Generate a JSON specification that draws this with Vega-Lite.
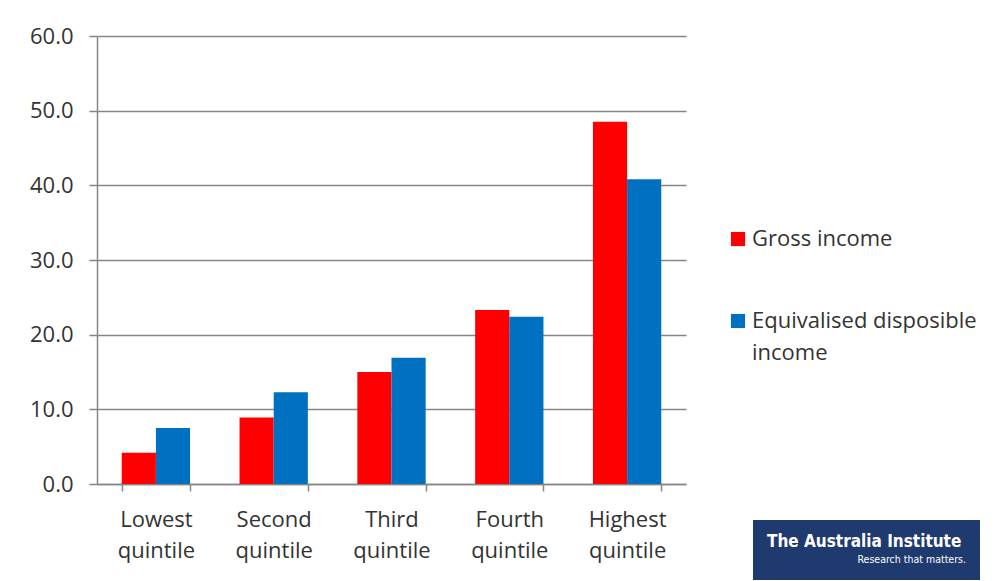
{
  "$schema": "https://vega.github.io/schema/vega-lite/v6.json",
  "autosize": {"type": "none"},
  "padding": {"left": 97, "top": 36, "right": 317, "bottom": 97},
  "width": 589,
  "height": 448,
  "background": "white",
  "config": {
    "font": "Open Sans",
    "view": {"stroke": null},
    "axis": {"labelFont": "Open Sans", "labelColor": "#333333", "labelFontSize": 22},
    "style": {"guide-label": {"lineHeight": 32}}
  },
  "data": {
    "values": [
      {"quintile": "Lowest quintile", "measure": "Gross income", "value": 4.2},
      {"quintile": "Lowest quintile", "measure": "Equivalised disposible income", "value": 7.5},
      {"quintile": "Second quintile", "measure": "Gross income", "value": 8.9},
      {"quintile": "Second quintile", "measure": "Equivalised disposible income", "value": 12.3},
      {"quintile": "Third quintile", "measure": "Gross income", "value": 15.0},
      {"quintile": "Third quintile", "measure": "Equivalised disposible income", "value": 16.9},
      {"quintile": "Fourth quintile", "measure": "Gross income", "value": 23.3},
      {"quintile": "Fourth quintile", "measure": "Equivalised disposible income", "value": 22.4},
      {"quintile": "Highest quintile", "measure": "Gross income", "value": 48.5},
      {"quintile": "Highest quintile", "measure": "Equivalised disposible income", "value": 40.8}
    ]
  },
  "layer": [
    {
      "mark": {"type": "bar"},
      "encoding": {
        "x": {
          "field": "quintile", "type": "nominal", "sort": null,
          "scale": {"paddingInner": 0.42, "paddingOuter": 0.21},
          "axis": {
            "title": null, "labelAngle": 0, "labelExpr": "split(datum.label, ' ')",
            "labelLineHeight": 31, "labelPadding": 18, "labelBaseline": "top",
            "tickBand": "extent", "tickSize": 7, "tickColor": "#868686", "tickWidth": 1.5,
            "domainColor": "#868686", "domainWidth": 1.5, "grid": false
          }
        },
        "xOffset": {"field": "measure", "type": "nominal", "sort": ["Gross income", "Equivalised disposible income"]},
        "y": {
          "field": "value", "type": "quantitative",
          "scale": {"domain": [0, 60], "nice": false},
          "axis": {
            "title": null, "values": [0, 10, 20, 30, 40, 50, 60], "format": ".1f",
            "tickSize": 8, "tickColor": "#868686", "tickWidth": 1.5, "labelPadding": 16,
            "domainColor": "#868686", "domainWidth": 1.5,
            "gridColor": "#868686", "gridWidth": 1.5
          }
        },
        "color": {
          "field": "measure", "type": "nominal",
          "sort": ["Gross income", "Equivalised disposible income"],
          "scale": {"domain": ["Gross income", "Equivalised disposible income"], "range": ["#ff0000", "#0070c0"]},
          "legend": {
            "title": null, "orient": "none", "legendX": 630, "legendY": 192,
            "symbolType": "square", "symbolSize": 200, "symbolStrokeWidth": 0,
            "labelFontSize": 22, "labelColor": "#333333", "labelFont": "Open Sans",
            "labelLimit": 400, "rowPadding": 60, "labelOffset": 3,
            "labelExpr": "datum.label == 'Equivalised disposible income' ? ['Equivalised disposible', 'income'] : datum.label",
            "encoding": {"labels": {"update": {"lineHeight": {"value": 32}}}}
          }
        }
      }
    },
    {
      "mark": {"type": "point", "opacity": 0},
      "encoding": {
        "x": {"field": "quintile", "type": "nominal", "sort": null},
        "y": {"datum": 0, "type": "quantitative"},
        "shape": {
          "datum": "Research that matters.",
          "legend": {
            "title": "The Australia Institute", "orient": "none", "legendX": 656, "legendY": 484,
            "fillColor": "#1f3a6e", "padding": 14, "titleLimit": 400, "titlePadding": 4,
            "titleColor": "white", "titleFontSize": 17, "titleFont": "DejaVu Sans Condensed", "titleFontWeight": "bold",
            "labelColor": "white", "labelFontSize": 10.5, "labelFont": "DejaVu Sans Condensed", "labelOffset": 80,
            "symbolOpacity": 0, "symbolSize": 0, "symbolStrokeWidth": 0
          }
        }
      }
    }
  ]
}
